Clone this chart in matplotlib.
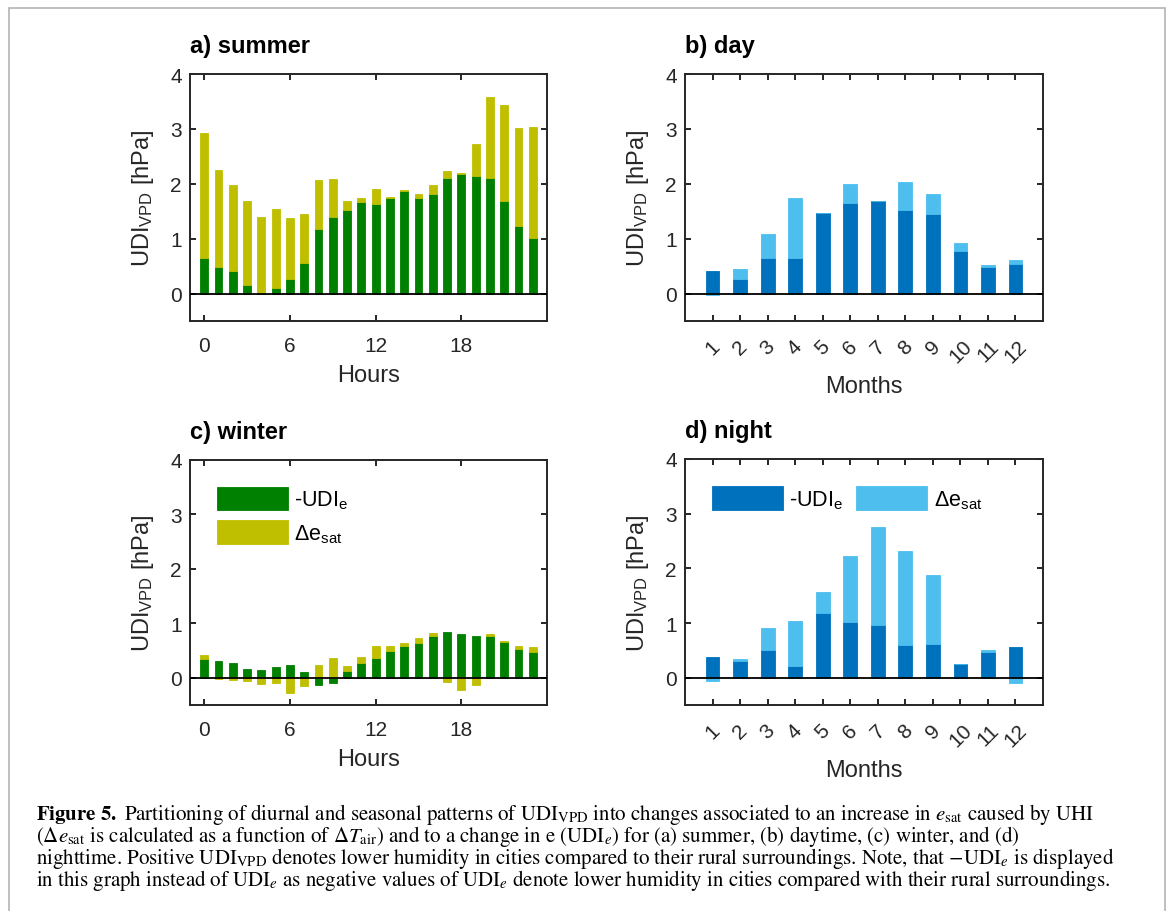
import matplotlib
matplotlib.use("Agg")
import matplotlib.pyplot as plt
import numpy as np
from matplotlib.patches import Rectangle

# ---- data ----
hours = np.arange(24)
months = np.arange(1, 13)
hour_ticks = [0, 6, 12, 18]

summer_udie = [0.64, 0.49, 0.42, 0.16, 0.01, 0.11, 0.26, 0.55, 1.17, 1.40, 1.53, 1.66,
               1.63, 1.74, 1.87, 1.74, 1.82, 2.11, 2.18, 2.15, 2.11, 1.68, 1.23, 1.02]
summer_desat = [2.28, 1.77, 1.56, 1.52, 1.39, 1.43, 1.12, 0.90, 0.89, 0.68, 0.16, 0.09,
                0.27, 0.02, 0.01, 0.08, 0.16, 0.12, 0.01, 0.57, 1.47, 1.76, 1.79, 2.01]

winter_udie = [0.34, 0.31, 0.27, 0.17, 0.15, 0.20, 0.23, 0.10, -0.13, -0.10, 0.12, 0.27,
               0.37, 0.49, 0.58, 0.64, 0.77, 0.84, 0.80, 0.77, 0.77, 0.65, 0.52, 0.47]
winter_desat = [0.08, -0.03, -0.04, -0.05, -0.12, -0.09, -0.28, -0.15, 0.24, 0.37, 0.09, 0.12,
                0.22, 0.10, 0.05, 0.09, 0.05, -0.07, -0.22, -0.14, 0.03, 0.02, 0.06, 0.10]

day_udie = [0.42, 0.27, 0.64, 0.64, 1.46, 1.65, 1.68, 1.53, 1.45, 0.77, 0.48, 0.54]
day_desat = [-0.03, 0.18, 0.45, 1.11, 0.0, 0.34, 0.01, 0.51, 0.36, 0.15, 0.04, 0.08]

night_udie = [0.37, 0.30, 0.50, 0.22, 1.19, 1.01, 0.96, 0.59, 0.62, 0.25, 0.47, 0.56]
night_desat = [-0.07, 0.04, 0.41, 0.82, 0.37, 1.21, 1.79, 1.72, 1.26, 0.0, 0.04, -0.09]

GREEN, OLIVE = "#008000", "#bfbf00"
BLUE, LIGHTBLUE = "#0072bd", "#4dbeee"
AXCOL = "#262626"

plt.rcParams["font.family"] = ["Liberation Sans", "DejaVu Sans"]
plt.rcParams["mathtext.fontset"] = "custom"
plt.rcParams["mathtext.rm"] = "Liberation Sans"
plt.rcParams["mathtext.it"] = "Liberation Sans:italic"

W, H = 1169, 912
fig = plt.figure(figsize=(W / 100, H / 100), dpi=100)


def stacked(ax, x, first, second, c1, c2, width):
    first = np.asarray(first, dtype=float)
    second = np.asarray(second, dtype=float)
    # matlab-style stacking: positives on positives, negatives on negatives
    base = np.where(second >= 0, np.maximum(first, 0), np.minimum(first, 0))
    h1 = ax.bar(x, first, width, color=c1, edgecolor=c1, linewidth=0.6, zorder=2)
    h2 = ax.bar(x, second, width, bottom=base, color=c2, edgecolor=c2, linewidth=0.6, zorder=2)
    return h1, h2


def style(ax, title):
    ax.set_ylim(-0.5, 4)
    ax.set_yticks([0, 1, 2, 3, 4])
    ax.axhline(0, color="k", lw=1.3, zorder=3)
    for s in ax.spines.values():
        s.set_linewidth(1.4)
        s.set_color(AXCOL)
    ax.tick_params(direction="in", top=True, right=True, length=4, width=1.4,
                   colors=AXCOL, labelsize=15)
    ax.tick_params(axis="y", pad=6)
    ax.tick_params(axis="x", pad=11)
    ax.set_ylabel("UDI$_\\mathrm{VPD}$ [hPa]", fontsize=17, color=AXCOL, labelpad=10)
    ax.set_title(title, loc="left", fontsize=17, fontweight="bold", pad=16)


def hour_axis(ax):
    ax.set_xlim(-1, 24)
    ax.set_xticks(hour_ticks)
    ax.set_xlabel("Hours", fontsize=17, color=AXCOL, labelpad=6)


def month_axis(ax):
    ax.set_xlim(0, 13)
    ax.set_xticks(months)
    ax.set_xticklabels([str(m) for m in months], rotation=45, ha="center")
    ax.set_xlabel("Months", fontsize=17, color=AXCOL, labelpad=6)


ax_a = fig.add_axes([190 / W, 1 - 322 / H, 357 / W, 247 / H])
ax_b = fig.add_axes([685 / W, 1 - 322 / H, 358 / W, 247 / H])
ax_c = fig.add_axes([190 / W, 1 - 706 / H, 357 / W, 245 / H])
ax_d = fig.add_axes([685 / W, 1 - 706 / H, 358 / W, 246 / H])

stacked(ax_a, hours, summer_udie, summer_desat, GREEN, OLIVE, 0.55)
style(ax_a, "a) summer")
hour_axis(ax_a)

stacked(ax_b, months, day_udie, day_desat, BLUE, LIGHTBLUE, 0.5)
style(ax_b, "b) day")
month_axis(ax_b)

hc = stacked(ax_c, hours, winter_udie, winter_desat, GREEN, OLIVE, 0.55)
style(ax_c, "c) winter")
hour_axis(ax_c)
ax_c.legend(hc, ["-UDI$_\\mathrm{e}$", "Δe$_\\mathrm{sat}$"], loc="upper left",
            bbox_to_anchor=(0.075, 0.89), frameon=False, fontsize=15.5,
            handlelength=3.3, handleheight=1.3, labelspacing=0.4, handletextpad=0.3,
            borderaxespad=0, borderpad=0)

hd = stacked(ax_d, months, night_udie, night_desat, BLUE, LIGHTBLUE, 0.5)
style(ax_d, "d) night")
month_axis(ax_d)
ax_d.legend(hd, ["-UDI$_\\mathrm{e}$", "Δe$_\\mathrm{sat}$"], loc="upper left",
            bbox_to_anchor=(0.075, 0.89), frameon=False, fontsize=15.5, ncol=2,
            handlelength=3.3, handleheight=1.3, handletextpad=0.3, columnspacing=0.6,
            borderaxespad=0, borderpad=0)

# page frame
fig.patches.append(Rectangle((9 / W, -0.05), (1165 - 9) / W, 1.05 - 9 / H, fill=False,
                             edgecolor="#b4b4b4", lw=1.2, transform=fig.transFigure))

# caption, one text block
caption = "\n".join([
    r"$\mathbf{Figure\ 5.}$ Partitioning of diurnal and seasonal patterns of UDI$_\mathrm{VPD}$ "
    r"into changes associated to an increase in $e_\mathrm{sat}$ caused by UHI",
    r"($\Delta e_\mathrm{sat}$ is calculated as a function of $\Delta T_\mathrm{air}$) and to a change "
    r"in e (UDI$_e$) for (a) summer, (b) daytime, (c) winter, and (d)",
    r"nighttime. Positive UDI$_\mathrm{VPD}$ denotes lower humidity in cities compared to their rural "
    r"surroundings. Note, that $-$UDI$_e$ is displayed",
    r"in this graph instead of UDI$_e$ as negative values of UDI$_e$ denote lower humidity in cities "
    r"compared with their rural surroundings.",
])
fig.text(36 / W, 1 - 802 / H, caption, fontsize=15, family="STIXGeneral",
         math_fontfamily="stix", color="k", ha="left", va="top", linespacing=0.83)

fig.savefig("out.png", dpi=100)
